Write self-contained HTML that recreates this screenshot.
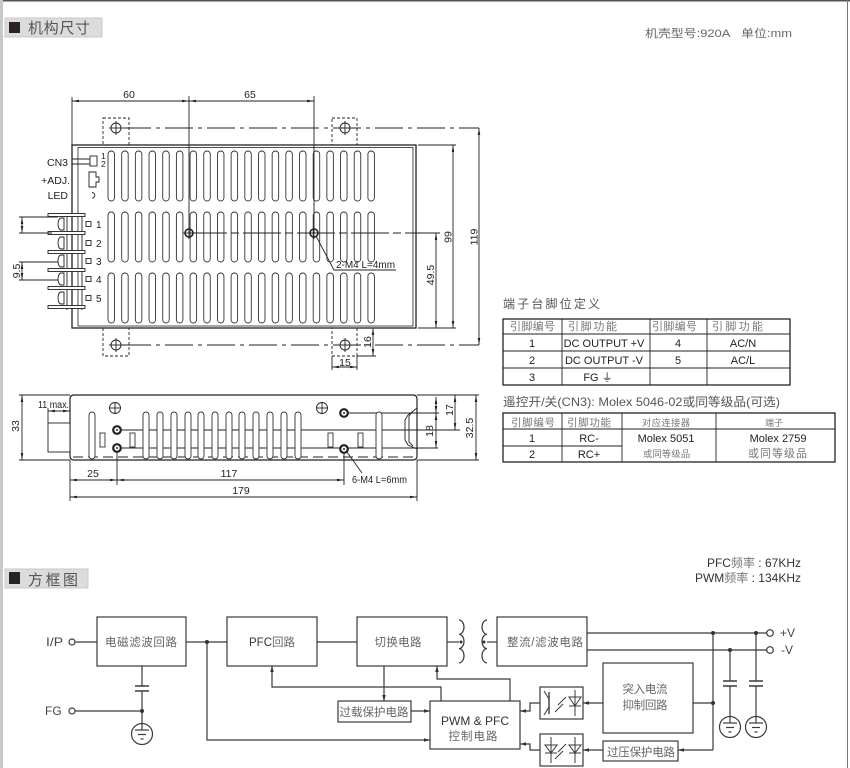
<!DOCTYPE html>
<html><head><meta charset="utf-8"><style>
html,body{margin:0;padding:0;background:#fff;}
svg{display:block;}
text{font-family:"Liberation Sans","Noto Sans CJK SC",sans-serif;}
</style></head><body>
<svg width="850" height="768" viewBox="0 0 850 768" xmlns="http://www.w3.org/2000/svg">
<defs>
<marker id="d" viewBox="0 0 10 10" refX="10" refY="5" markerWidth="7" markerHeight="7" orient="auto-start-reverse" markerUnits="userSpaceOnUse"><path d="M0,3.2 L10,5 L0,6.8z" fill="#222" stroke="none"/></marker>
<marker id="b" viewBox="0 0 10 10" refX="10" refY="5" markerWidth="6" markerHeight="6" orient="auto" markerUnits="userSpaceOnUse"><path d="M0,2 L10,5 L0,8z" fill="#333" stroke="none"/></marker>
<g id="slots" fill="#fff" stroke="#333" stroke-width="0.9">
<rect x="108" y="0" width="6.5" height="50" rx="3.2"/><rect x="121.68" y="0" width="6.5" height="50" rx="3.2"/><rect x="135.36" y="0" width="6.5" height="50" rx="3.2"/><rect x="149.04" y="0" width="6.5" height="50" rx="3.2"/><rect x="162.72" y="0" width="6.5" height="50" rx="3.2"/><rect x="176.4" y="0" width="6.5" height="50" rx="3.2"/><rect x="190.08" y="0" width="6.5" height="50" rx="3.2"/><rect x="203.76" y="0" width="6.5" height="50" rx="3.2"/><rect x="217.44" y="0" width="6.5" height="50" rx="3.2"/><rect x="231.12" y="0" width="6.5" height="50" rx="3.2"/><rect x="244.8" y="0" width="6.5" height="50" rx="3.2"/><rect x="258.48" y="0" width="6.5" height="50" rx="3.2"/><rect x="272.16" y="0" width="6.5" height="50" rx="3.2"/><rect x="285.84" y="0" width="6.5" height="50" rx="3.2"/><rect x="299.52" y="0" width="6.5" height="50" rx="3.2"/><rect x="313.2" y="0" width="6.5" height="50" rx="3.2"/><rect x="326.88" y="0" width="6.5" height="50" rx="3.2"/><rect x="340.56" y="0" width="6.5" height="50" rx="3.2"/><rect x="354.24" y="0" width="6.5" height="50" rx="3.2"/><rect x="367.92" y="0" width="6.5" height="50" rx="3.2"/>
</g>
</defs>

<!-- page frame -->
<line x1="0" y1="0.75" x2="850" y2="0.75" stroke="#555" stroke-width="1.5"/>
<line x1="1.5" y1="0" x2="1.5" y2="768" stroke="#c8c8c8" stroke-width="3"/>
<line x1="847.5" y1="0" x2="847.5" y2="768" stroke="#777" stroke-width="1"/>

<!-- header 1 -->
<rect x="5" y="18" width="97" height="19" fill="#dcdcdc" stroke="#c8c8c8" stroke-width="1"/>
<rect x="9" y="22" width="11" height="11" fill="#2b2323"/>
<text x="28" y="33" font-size="15" fill="#555" textLength="62" lengthAdjust="spacing">机构尺寸</text>
<text x="645" y="37" font-size="11" fill="#666" textLength="147" lengthAdjust="spacingAndGlyphs">机壳型号:920A&#160;&#160;&#160;单位:mm</text>

<!-- ================= TOP VIEW ================= -->
<g fill="none" stroke="#222" stroke-width="0.9">
<rect x="72" y="145" width="344" height="183" stroke-width="1.3"/>
<rect x="78" y="147.5" width="335" height="178.5" stroke-width="0.8"/>
</g>
<use href="#slots" x="0" y="151"/>
<use href="#slots" x="0" y="212"/>
<use href="#slots" x="0" y="273"/>

<g fill="none" stroke="#222" stroke-width="0.9">
<line x1="72" y1="101" x2="189" y2="101" marker-start="url(#d)" marker-end="url(#d)"/>
<line x1="189" y1="101" x2="314" y2="101" marker-start="url(#d)" marker-end="url(#d)"/>
<line x1="72" y1="97" x2="72" y2="145"/>
<line x1="189" y1="96" x2="189" y2="233"/>
<line x1="314" y1="96" x2="314" y2="233"/>
<g stroke-dasharray="3 2">
<rect x="103" y="118" width="26" height="27"/><rect x="332" y="118" width="25" height="27"/>
<rect x="103" y="328" width="26" height="28"/><rect x="332" y="328" width="25" height="28"/>
</g>
<circle cx="116" cy="128" r="5"/><line x1="109" y1="128" x2="123" y2="128"/><line x1="116" y1="121" x2="116" y2="135"/>
<circle cx="345" cy="128" r="5"/><line x1="338" y1="128" x2="352" y2="128"/><line x1="345" y1="121" x2="345" y2="135"/>
<circle cx="116" cy="345" r="5"/><line x1="109" y1="345" x2="123" y2="345"/><line x1="116" y1="338" x2="116" y2="352"/>
<circle cx="345" cy="345" r="5"/><line x1="338" y1="345" x2="352" y2="345"/><line x1="345" y1="338" x2="345" y2="352"/>
<line x1="123" y1="128" x2="479" y2="128" stroke-dasharray="28 5 4 5"/>
<line x1="123" y1="345" x2="479" y2="345" stroke-dasharray="28 5 4 5"/>
<line x1="189" y1="233" x2="440" y2="233" stroke-dasharray="38 4 8 4"/>
<line x1="479" y1="128" x2="479" y2="345" marker-start="url(#d)" marker-end="url(#d)"/>
<line x1="418" y1="145" x2="456" y2="145"/><line x1="418" y1="328" x2="456" y2="328"/>
<line x1="453" y1="145" x2="453" y2="328" marker-start="url(#d)" marker-end="url(#d)"/>
<line x1="436" y1="233" x2="436" y2="328" marker-start="url(#d)" marker-end="url(#d)"/>
<line x1="357" y1="356" x2="376" y2="356"/>
<line x1="373" y1="328" x2="373" y2="356" marker-start="url(#d)" marker-end="url(#d)"/>
<line x1="332" y1="356" x2="332" y2="370"/><line x1="357" y1="356" x2="357" y2="370"/>
<line x1="332" y1="367" x2="357" y2="367" marker-start="url(#d)" marker-end="url(#d)"/>
<circle cx="189" cy="233" r="4" stroke-width="1.6"/><line x1="183" y1="233" x2="195" y2="233"/><line x1="189" y1="227" x2="189" y2="239"/>
<circle cx="314" cy="233" r="4" stroke-width="1.6"/><line x1="308" y1="233" x2="320" y2="233"/><line x1="314" y1="227" x2="314" y2="239"/>
<polyline points="316,236 334,270 396,270"/>
<line x1="72" y1="159" x2="90" y2="159"/><line x1="72" y1="164" x2="90" y2="164"/>
<rect x="90" y="156" width="7" height="10"/>
<path d="M89,172 H96 V177 H99 V182 H96 V187 H89 Z"/>
<path d="M92,192.5 a2.8,2.8 0 1 1 0,5.6"/>
<line x1="67" y1="213" x2="67" y2="310"/><line x1="82" y1="213" x2="82" y2="310"/>
<g fill="#fff">
<rect x="48" y="213.5" width="37" height="3"/><rect x="48" y="231.5" width="37" height="3"/><rect x="48" y="250.5" width="37" height="3"/>
<rect x="48" y="268.5" width="37" height="3"/><rect x="48" y="286.5" width="37" height="3"/><rect x="48" y="305.5" width="37" height="3"/>
</g>
<path d="M64,218 H61 A3,6 0 0 0 61,230 H64 Z"/>
<path d="M64,237 H61 A3,6 0 0 0 61,249 H64 Z"/>
<path d="M64,255 H61 A3,6 0 0 0 61,267 H64 Z"/>
<path d="M64,273 H61 A3,6 0 0 0 61,285 H64 Z"/>
<path d="M64,292 H61 A3,6 0 0 0 61,304 H64 Z"/>
<rect x="86" y="221.5" width="5" height="5"/><rect x="86" y="240.5" width="5" height="5"/><rect x="86" y="258.5" width="5" height="5"/><rect x="86" y="276.5" width="5" height="5"/><rect x="86" y="295.5" width="5" height="5"/>
<line x1="19" y1="217" x2="58" y2="217"/><line x1="19" y1="233" x2="52" y2="233"/>
<line x1="22" y1="217" x2="22" y2="233" marker-start="url(#d)" marker-end="url(#d)"/>
<line x1="19" y1="262" x2="58" y2="262"/><line x1="19" y1="280" x2="58" y2="280"/>
<line x1="22" y1="262" x2="22" y2="280" marker-start="url(#d)" marker-end="url(#d)"/>
</g>

<g font-size="10.5" fill="#222">
<text x="129" y="98" text-anchor="middle">60</text>
<text x="250" y="98" text-anchor="middle">65</text>
<text transform="translate(477.5,237) rotate(-90)" text-anchor="middle">119</text>
<text transform="translate(451.5,237) rotate(-90)" text-anchor="middle">99</text>
<text transform="translate(434,275) rotate(-90)" text-anchor="middle">49.5</text>
<text transform="translate(371,342) rotate(-90)" text-anchor="middle">16</text>
<text x="345" y="366" text-anchor="middle">15</text>
<text x="336" y="268" font-size="10" textLength="59" lengthAdjust="spacingAndGlyphs">2-M4 L=4mm</text>
<text x="68" y="166" text-anchor="end">CN3</text>
<text x="101" y="159" font-size="8.5">1</text>
<text x="101" y="167" font-size="8.5">2</text>
<text x="70" y="184" text-anchor="end">+ADJ.</text>
<text x="68" y="199" text-anchor="end">LED</text>
<text x="96" y="228" font-size="10">1</text>
<text x="96" y="247" font-size="10">2</text>
<text x="96" y="265" font-size="10">3</text>
<text x="96" y="283" font-size="10">4</text>
<text x="96" y="302" font-size="10">5</text>
<text transform="translate(20,271) rotate(-90)" text-anchor="middle">9.5</text>
</g>

<!-- ================= SIDE VIEW ================= -->
<g fill="none" stroke="#222" stroke-width="0.9">
<path d="M74,395 H413 Q417,395 417,399 V456 Q417,460 413,460 H74 Q70,460 70,456 V399 Q70,395 74,395 Z" stroke-width="1.2"/>
<line x1="19" y1="395" x2="70" y2="395"/>
<line x1="19" y1="460" x2="70" y2="460"/>
<line x1="417" y1="395" x2="479" y2="395"/>
<line x1="417" y1="460" x2="479" y2="460"/>
<line x1="22" y1="395" x2="22" y2="460" marker-start="url(#d)" marker-end="url(#d)"/>
<rect x="48" y="423" width="22" height="29" fill="#fff"/>
<line x1="48" y1="408" x2="48" y2="423"/>
<line x1="48" y1="411" x2="70" y2="411" marker-start="url(#d)" marker-end="url(#d)"/>
<line x1="73" y1="457" x2="414" y2="457" stroke-dasharray="10 5"/>
<line x1="117" y1="430" x2="460" y2="430"/>
<line x1="117" y1="448" x2="438" y2="448"/>
<line x1="344" y1="413" x2="439" y2="413"/>
</g>
<g fill="#fff" stroke="#333" stroke-width="0.9">
<rect x="89" y="412" width="6" height="47" rx="3"/><rect x="143" y="412" width="6" height="47" rx="3"/><rect x="157" y="412" width="6" height="47" rx="3"/><rect x="171" y="412" width="6" height="47" rx="3"/><rect x="185" y="412" width="6" height="47" rx="3"/><rect x="198" y="412" width="6" height="47" rx="3"/><rect x="212" y="412" width="6" height="47" rx="3"/><rect x="226" y="412" width="6" height="47" rx="3"/><rect x="239" y="412" width="6" height="47" rx="3"/><rect x="253" y="412" width="6" height="47" rx="3"/><rect x="267" y="412" width="6" height="47" rx="3"/><rect x="281" y="412" width="6" height="47" rx="3"/><rect x="295" y="412" width="6" height="47" rx="3"/><rect x="376" y="412" width="6" height="47" rx="3"/>
<rect x="100" y="433" width="5" height="14"/><rect x="130" y="433" width="5" height="14"/><rect x="328" y="433" width="5" height="14"/><rect x="358" y="433" width="5" height="14"/>
</g>
<g fill="none" stroke="#222" stroke-width="0.9">
<circle cx="115" cy="408" r="5.5"/><line x1="110" y1="408" x2="120" y2="408"/><line x1="115" y1="403" x2="115" y2="413"/>
<circle cx="322" cy="408" r="5.5"/><line x1="317" y1="408" x2="327" y2="408"/><line x1="322" y1="403" x2="322" y2="413"/>
<path d="M417,408 L408,415 L405,420 V440 L408,445 L417,449"/>
<path d="M413,411 L409,416 V442 L413,446"/>
<line x1="455" y1="395" x2="455" y2="430" marker-start="url(#d)" marker-end="url(#d)"/>
<line x1="436" y1="397" x2="436" y2="413" marker-start="url(#d)" marker-end="url(#d)"/>
<line x1="436" y1="413" x2="436" y2="448" marker-start="url(#d)" marker-end="url(#d)"/>
<line x1="476" y1="395" x2="476" y2="460" marker-start="url(#d)" marker-end="url(#d)"/>
<line x1="70" y1="460" x2="70" y2="501"/>
<line x1="417" y1="460" x2="417" y2="501"/>
<line x1="117" y1="452" x2="117" y2="485"/>
<line x1="344" y1="453" x2="344" y2="485"/>
<line x1="70" y1="480" x2="117" y2="480" marker-start="url(#d)" marker-end="url(#d)"/>
<line x1="117" y1="480" x2="344" y2="480" marker-start="url(#d)" marker-end="url(#d)"/>
<line x1="70" y1="497" x2="417" y2="497" marker-start="url(#d)" marker-end="url(#d)"/>
<line x1="347" y1="452" x2="362" y2="473"/>
</g>
<g fill="#fff" stroke="#222" stroke-width="2.2">
<circle cx="117" cy="430" r="3.8"/><circle cx="117" cy="448" r="3.8"/><circle cx="344" cy="413" r="3.8"/><circle cx="344" cy="449" r="3.8"/>
</g>
<g fill="#222">
<circle cx="117" cy="430" r="1"/><circle cx="117" cy="448" r="1"/><circle cx="344" cy="413" r="1"/><circle cx="344" cy="449" r="1"/>
</g>
<g font-size="10.5" fill="#222">
<text transform="translate(19,426) rotate(-90)" text-anchor="middle">33</text>
<text x="38" y="408" font-size="10" textLength="31" lengthAdjust="spacingAndGlyphs">11 max.</text>
<text transform="translate(453,410) rotate(-90)" text-anchor="middle">17</text>
<text transform="translate(433,431) rotate(-90)" text-anchor="middle">18</text>
<text transform="translate(473,428) rotate(-90)" text-anchor="middle">32.5</text>
<text x="93" y="477" text-anchor="middle">25</text>
<text x="229" y="477" text-anchor="middle">117</text>
<text x="241" y="494" text-anchor="middle">179</text>
<text x="352" y="483" font-size="10" textLength="55" lengthAdjust="spacingAndGlyphs">6-M4 L=6mm</text>
</g>

<!-- ================= TABLES ================= -->
<text x="503" y="308" font-size="12" fill="#555" textLength="97" lengthAdjust="spacing">端子台脚位定义</text>
<g fill="none" stroke="#222">
<rect x="503" y="319" width="287" height="66" stroke-width="1.3"/>
<g stroke-width="0.9">
<line x1="503" y1="334" x2="790" y2="334"/><line x1="503" y1="351" x2="790" y2="351"/><line x1="503" y1="368" x2="790" y2="368"/>
<line x1="562" y1="319" x2="562" y2="385"/><line x1="650" y1="319" x2="650" y2="385"/><line x1="707" y1="319" x2="707" y2="385"/>
</g>
</g>
<g font-size="11" fill="#777">
<text x="510" y="330" textLength="45" lengthAdjust="spacing">引脚编号</text>
<text x="568" y="330" textLength="49" lengthAdjust="spacing">引脚功能</text>
<text x="652" y="330" textLength="45" lengthAdjust="spacing">引脚编号</text>
<text x="712" y="330" textLength="51" lengthAdjust="spacing">引脚功能</text>
</g>
<g font-size="11" fill="#222" text-anchor="middle">
<text x="532" y="347">1</text><text x="604" y="347">DC OUTPUT +V</text><text x="678" y="347">4</text><text x="743" y="347">AC/N</text>
<text x="532" y="364">2</text><text x="604" y="364">DC OUTPUT -V</text><text x="678" y="364">5</text><text x="743" y="364">AC/L</text>
<text x="532" y="381">3</text><text x="598" y="381">FG ⏚</text>
</g>

<text x="503" y="406" font-size="12" fill="#555" textLength="277" lengthAdjust="spacingAndGlyphs">遥控开/关(CN3): Molex 5046-02或同等级品(可选)</text>
<g fill="none" stroke="#222">
<rect x="503" y="413" width="332" height="49" stroke-width="1.3"/>
<g stroke-width="0.9">
<line x1="503" y1="429" x2="835" y2="429"/><line x1="503" y1="446" x2="622" y2="446"/>
<line x1="562" y1="413" x2="562" y2="462"/><line x1="622" y1="413" x2="622" y2="462"/><line x1="716" y1="413" x2="716" y2="462"/>
</g>
</g>
<g fill="#777">
<text x="511" y="426" font-size="10.5" textLength="44" lengthAdjust="spacing">引脚编号</text>
<text x="567" y="426" font-size="10.5" textLength="44" lengthAdjust="spacing">引脚功能</text>
<text x="642" y="426" font-size="9.3" textLength="48" lengthAdjust="spacing">对应连接器</text>
<text x="765" y="426" font-size="9" textLength="18" lengthAdjust="spacing">端子</text>
<text x="643" y="457" font-size="9.2" textLength="47" lengthAdjust="spacing">或同等级品</text>
<text x="748" y="457" font-size="11" textLength="59" lengthAdjust="spacing">或同等级品</text>
</g>
<g font-size="11" fill="#222" text-anchor="middle">
<text x="532" y="442">1</text><text x="589" y="442">RC-</text>
<text x="532" y="458">2</text><text x="589" y="458">RC+</text>
<text x="666" y="442">Molex 5051</text>
<text x="778" y="442">Molex 2759</text>
</g>

<!-- ================= BLOCK DIAGRAM ================= -->
<rect x="5" y="569" width="83" height="19" fill="#dcdcdc" stroke="#c8c8c8" stroke-width="1"/>
<rect x="9" y="572" width="11" height="12" fill="#2b2323"/>
<text x="28" y="585" font-size="15" fill="#555" textLength="50" lengthAdjust="spacing">方框图</text>

<g font-size="12" fill="#333" text-anchor="end">
<text x="801" y="567">PFC<tspan fill="#777">频率</tspan> : 67KHz</text>
<text x="801" y="582">PWM<tspan fill="#777">频率</tspan> : 134KHz</text>
</g>

<g fill="none" stroke="#3a3a3a" stroke-width="1.2">
<rect x="97" y="617" width="89" height="49"/>
<rect x="227" y="617" width="90" height="49"/>
<rect x="357" y="617" width="90" height="49"/>
<rect x="497" y="617" width="90" height="49"/>
<rect x="603" y="663" width="90" height="70"/>
<rect x="603" y="741" width="75" height="20"/>
<rect x="338" y="701" width="73" height="21"/>
<rect x="430" y="701" width="90" height="48"/>
<rect x="540" y="687" width="43" height="32"/>
<rect x="540" y="734" width="43" height="32"/>
<circle cx="72" cy="642" r="3"/>
<line x1="75" y1="642" x2="97" y2="642"/>
<circle cx="72" cy="711" r="3"/>
<line x1="75" y1="711" x2="142" y2="711"/>
<line x1="142" y1="666" x2="142" y2="686"/>
<line x1="135" y1="686" x2="149" y2="686" stroke-width="1.5"/>
<line x1="135" y1="691" x2="149" y2="691" stroke-width="1.5"/>
<line x1="142" y1="691" x2="142" y2="723"/>
<circle cx="142" cy="734" r="10.5"/>
<line x1="142" y1="723.5" x2="142" y2="730"/>
<line x1="135" y1="730" x2="149" y2="730"/><line x1="138" y1="734.5" x2="146" y2="734.5"/><line x1="140.5" y1="739" x2="143.5" y2="739"/>
<line x1="186" y1="642" x2="227" y2="642"/>
<line x1="317" y1="642" x2="357" y2="642"/>
<line x1="447" y1="642" x2="459" y2="642"/>
<line x1="487" y1="642" x2="497" y2="642"/>
<path d="M459,620 a5,7.15 0 0 1 0,14.3 a5,7.15 0 0 1 0,14.3 a5,7.15 0 0 1 0,14.3"/>
<path d="M487,620 a5,7.15 0 0 0 0,14.3 a5,7.15 0 0 0 0,14.3 a5,7.15 0 0 0 0,14.3"/>
<line x1="587" y1="633" x2="767" y2="633"/>
<line x1="587" y1="650" x2="767" y2="650"/>
<circle cx="770" cy="633" r="3.3"/>
<circle cx="770" cy="650" r="3.3"/>
<line x1="713" y1="633" x2="713" y2="750"/>
<line x1="693" y1="703" x2="713" y2="703"/>
<line x1="713" y1="750" x2="678" y2="750" marker-end="url(#b)"/>
<line x1="730" y1="650" x2="730" y2="681"/>
<line x1="723" y1="681" x2="737" y2="681" stroke-width="1.5"/>
<line x1="723" y1="686" x2="737" y2="686" stroke-width="1.5"/>
<line x1="730" y1="686" x2="730" y2="717"/>
<circle cx="730" cy="727" r="10.5"/>
<line x1="730" y1="717" x2="730" y2="723"/>
<line x1="723" y1="723" x2="737" y2="723"/><line x1="726" y1="727.5" x2="734" y2="727.5"/><line x1="728.5" y1="732" x2="731.5" y2="732"/>
<line x1="756" y1="633" x2="756" y2="681"/>
<line x1="749" y1="681" x2="763" y2="681" stroke-width="1.5"/>
<line x1="749" y1="686" x2="763" y2="686" stroke-width="1.5"/>
<line x1="756" y1="686" x2="756" y2="717"/>
<circle cx="756" cy="727" r="10.5"/>
<line x1="756" y1="717" x2="756" y2="723"/>
<line x1="749" y1="723" x2="763" y2="723"/><line x1="752" y1="727.5" x2="760" y2="727.5"/><line x1="754.5" y1="732" x2="757.5" y2="732"/>
<line x1="603" y1="703" x2="583" y2="703" marker-end="url(#b)"/>
<line x1="603" y1="750" x2="583" y2="750" marker-end="url(#b)"/>
<polyline points="540,703 530,703 530,711 520,711" marker-end="url(#b)"/>
<polyline points="540,750 530,750 530,744 520,744" marker-end="url(#b)"/>
<polyline points="510,701 510,679 437,679 437,666" marker-end="url(#b)"/>
<polyline points="441,701 441,687 272,687 272,666" marker-end="url(#b)"/>
<line x1="384" y1="666" x2="384" y2="701" marker-end="url(#b)"/>
<line x1="411" y1="711" x2="430" y2="711" marker-end="url(#b)"/>
<polyline points="207,642 207,740 430,740" marker-end="url(#b)"/>
<g stroke-width="1">
<line x1="549" y1="692" x2="549" y2="714" stroke-width="1.4"/>
<line x1="549" y1="699" x2="544" y2="691"/>
<line x1="549" y1="707" x2="544" y2="715"/>
<line x1="566" y1="697" x2="558" y2="705"/><line x1="563" y1="704" x2="555" y2="712"/>
<line x1="575" y1="690" x2="575" y2="716"/>
<path d="M569,697 H581 L575,706 Z"/><line x1="569" y1="706" x2="581" y2="706"/>
<line x1="551" y1="737" x2="551" y2="763"/>
<path d="M545,745 H557 L551,753 Z"/><line x1="545" y1="745" x2="557" y2="745"/><line x1="545" y1="753" x2="557" y2="753"/>
<line x1="566" y1="744" x2="558" y2="752"/><line x1="563" y1="751" x2="555" y2="759"/>
<line x1="575" y1="737" x2="575" y2="763"/>
<path d="M569,745 H581 L575,753 Z"/><line x1="569" y1="753" x2="581" y2="753"/>
</g>
</g>
<g fill="#333">
<circle cx="207" cy="642" r="2"/>
<circle cx="142" cy="711" r="2"/>
<circle cx="713" cy="633" r="2"/>
<circle cx="756" cy="633" r="2"/>
<circle cx="730" cy="650" r="2"/>
<circle cx="713" cy="703" r="2"/>
<circle cx="461" cy="642" r="1.5"/>
<circle cx="484" cy="642" r="1.5"/>
</g>

<g font-size="12" fill="#444">
<text x="46" y="646" textLength="17" lengthAdjust="spacingAndGlyphs">I/P</text>
<text x="45" y="715">FG</text>
<text x="780" y="637">+V</text>
<text x="781" y="654">-V</text>
</g>
<g font-size="11.5" fill="#666" text-anchor="middle">
<text x="141" y="646" textLength="72" lengthAdjust="spacing">电磁滤波回路</text>
<text x="272" y="646"><tspan fill="#333">PFC</tspan>回路</text>
<text x="398" y="646" textLength="47" lengthAdjust="spacing">切换电路</text>
<text x="545" y="646" textLength="76" lengthAdjust="spacing">整流/滤波电路</text>
<text x="645" y="693" textLength="45" lengthAdjust="spacing">突入电流</text>
<text x="645" y="709" textLength="45" lengthAdjust="spacing">抑制回路</text>
<text x="641" y="756" textLength="68" lengthAdjust="spacing">过压保护电路</text>
<text x="374" y="716" textLength="69" lengthAdjust="spacing">过载保护电路</text>
<text x="475" y="725" fill="#333" font-size="12">PWM &amp; PFC</text>
<text x="473" y="740" textLength="49" lengthAdjust="spacing">控制电路</text>
</g>
</svg>
</body></html>
